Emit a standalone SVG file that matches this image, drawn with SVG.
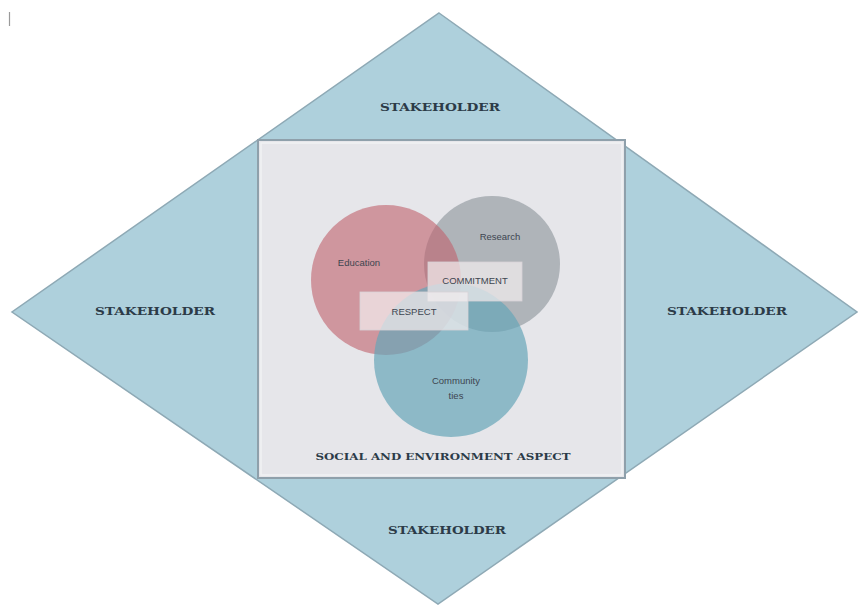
<svg xmlns="http://www.w3.org/2000/svg" width="858" height="606" viewBox="0 0 858 606">
  <style>
    .stake { font-family: "DejaVu Serif", "Liberation Serif", serif; font-weight: bold; font-size: 11px; fill: #2c3b48; text-anchor: middle; }
    .aspect { font-family: "DejaVu Serif", "Liberation Serif", serif; font-weight: bold; font-size: 8.5px; fill: #2c3b48; text-anchor: middle; }
    .lbl { font-family: "Liberation Sans", Arial, sans-serif; font-size: 9.5px; fill: #3d4550; text-anchor: middle; }
    .tag { fill: #f4eef0; fill-opacity: 0.7; stroke: #d8d2d6; stroke-width: 0.8; }
  </style>
  <rect width="858" height="606" fill="#ffffff"/>
  <line x1="9.5" y1="12" x2="9.5" y2="26" stroke="#9a9a9a" stroke-width="1.2"/>

  <!-- outer stakeholder diamond -->
  <g id="stakeholders">
    <polygon points="439,13 857,312 438,604 12,312" fill="#aed0dc" stroke="#8ea9b5" stroke-width="1.5"/>
    <text class="stake" x="440" y="111" textLength="120" lengthAdjust="spacingAndGlyphs">STAKEHOLDER</text>
    <text class="stake" x="155" y="315" textLength="120" lengthAdjust="spacingAndGlyphs">STAKEHOLDER</text>
    <text class="stake" x="727" y="315" textLength="120" lengthAdjust="spacingAndGlyphs">STAKEHOLDER</text>
    <text class="stake" x="447" y="534" textLength="118" lengthAdjust="spacingAndGlyphs">STAKEHOLDER</text>
  </g>

  <!-- social and environment frame -->
  <g id="aspect">
    <rect x="258" y="140" width="367" height="338" fill="#e6e6ea" stroke="#8fa0ab" stroke-width="2"/>
    <rect x="261" y="143" width="361" height="332" fill="none" stroke="#f1f2f4" stroke-width="1.5"/>
    <text class="aspect" x="443" y="460" textLength="255" lengthAdjust="spacingAndGlyphs">SOCIAL AND ENVIRONMENT ASPECT</text>
  </g>

  <!-- three overlapping fields -->
  <g id="research">
    <circle cx="492" cy="264" r="68" fill="#a5aab0" fill-opacity="0.85"/>
    <text class="lbl" x="500" y="240">Research</text>
  </g>
  <g id="education">
    <circle cx="386" cy="280" r="75" fill="#c0646f" fill-opacity="0.62"/>
    <text class="lbl" x="359" y="266">Education</text>
  </g>
  <g id="community">
    <circle cx="451" cy="360" r="77" fill="#66a5b8" fill-opacity="0.7"/>
    <text class="lbl" x="456" y="384">Community</text>
    <text class="lbl" x="456" y="399">ties</text>
  </g>

  <!-- shared values -->
  <g id="commitment">
    <rect class="tag" x="428" y="262" width="94" height="39"/>
    <text class="lbl" x="475" y="284">COMMITMENT</text>
  </g>
  <g id="respect">
    <rect class="tag" x="360" y="292" width="108" height="38"/>
    <text class="lbl" x="414" y="315">RESPECT</text>
  </g>
</svg>
